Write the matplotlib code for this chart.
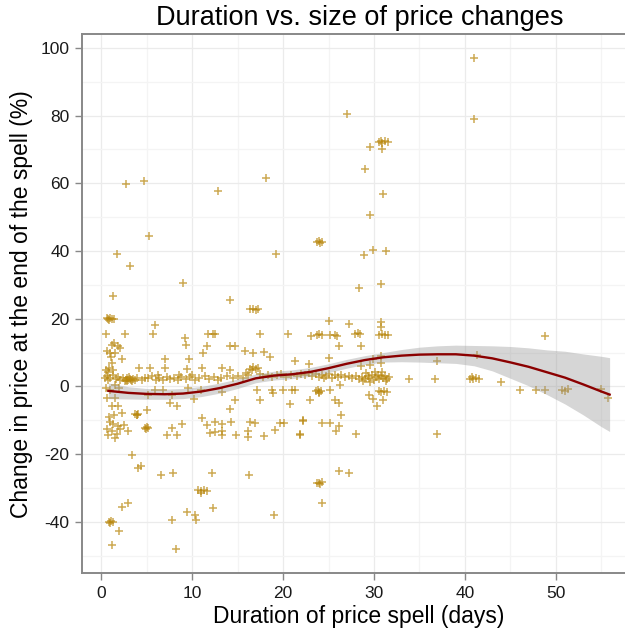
"""Duration vs. size of price changes: scatter of price spells with a smoothed fit."""
import matplotlib
matplotlib.use("Agg")
import matplotlib.pyplot as plt

plt.rcParams["font.family"] = ["Liberation Sans", "DejaVu Sans"]
plt.rcParams["axes.unicode_minus"] = False

# (duration in days, change in %), grouped by duration range
short_spells = [
    (2.7, 59.7), (4.7, 60.6), (5.3, 44.3), (1.8, 39.2), (3.2, 35.7), (1.3, 26.8),
    (0.6, 20.1), (0.8, 19.8), (1.0, 20.2), (1.2, 19.9), (1.4, 20.0), (0.9, 19.6),
    (0.5, 15.5), (2.6, 15.5), (1.2, 12.3), (1.9, 11.8), (1.5, 9.8), (1.0, 9.8),
    (2.3, 8.1), (1.2, 6.9), (0.8, 4.4), (1.4, 12.8), (1.1, 8.8), (0.7, 10.5), (2.1, 11.5),
    (0.4, 2.5), (0.6, 3.2), (0.8, 1.8), (1.0, 2.6), (1.3, 3.4), (1.6, 2.2), (1.9, 2.9),
    (2.1, 2.0), (2.4, 2.5), (2.6, 1.7), (2.8, 2.4), (3.0, 2.0), (3.1, 2.8), (3.3, 1.8),
    (3.5, 2.3), (3.7, 2.0), (0.5, 5.0), (0.9, 5.4), (1.3, 4.8), (4.2, 5.4), (4.0, 2.6),
    (4.5, 1.9), (4.8, 2.4), (2.9, 1.5), (3.2, 2.2), (3.4, 1.6), (2.7, 2.0),
    (0.5, -0.4), (1.0, -1.0), (1.5, 0.5), (2.0, -0.5), (0.6, -3.5), (1.5, -3.5),
    (1.9, -5.9), (1.2, -5.9), (2.3, -7.9), (1.4, -8.4), (1.0, -10.4), (2.5, -11.3),
    (1.9, -11.8), (1.2, -13.3), (0.8, -14.3), (1.5, -15.3), (3.0, -13.3), (0.6, -12.5),
    (1.3, -11.0), (2.1, -12.6), (1.7, -14.0), (0.9, -9.0),
    (3.7, -8.2), (3.9, -8.4), (4.1, -8.0), (4.0, -8.3),
    (4.8, -12.3), (5.0, -12.1), (5.2, -12.4), (4.9, -12.6), (5.0, -6.9),
    (3.4, -20.2), (4.1, -24.1), (4.4, -23.4), (2.3, -35.6), (3.0, -34.5),
    (0.9, -40.0), (1.1, -39.8), (1.3, -40.1), (1.0, -40.2), (2.0, -42.6), (1.2, -46.9),
]

mid_spells = [
    (6.6, -26.1), (7.9, -25.6), (12.2, -25.6), (9.4, -37.1), (10.3, -37.9),
    (10.4, -39.4), (12.3, -35.9), (7.8, -39.4), (8.2, -47.9),
    (10.7, -30.7), (11.0, -30.9), (11.3, -30.6), (11.6, -30.8), (11.0, -31.6),
    (9.0, 30.5), (12.9, 57.6), (5.9, 18.2), (5.7, 15.5), (9.2, 14.3), (9.3, 12.3),
    (11.7, 15.5), (12.3, 15.5), (11.6, 11.8), (11.2, 9.8), (7.0, 8.1), (9.7, 8.1),
    (9.4, 5.1), (11.1, 5.4), (7.0, 5.4), (5.4, 5.4),
    (5.2, 2.5), (5.6, 3.0), (6.0, 2.0), (6.4, 2.6), (6.8, 1.8), (7.2, 2.9), (7.6, 2.2),
    (8.0, 2.6), (8.4, 1.9), (8.8, 2.8), (9.3, 2.3), (9.8, 2.8), (10.3, 1.8), (10.8, 2.5),
    (11.4, 3.0), (11.9, 2.2), (12.4, 2.7), (12.8, 1.8), (6.2, 3.3), (8.6, 3.3), (10.0, 3.5),
    (5.9, -1.0), (6.8, -1.0), (5.2, -2.5), (7.8, -2.5), (7.6, -4.9), (8.3, -5.9),
    (11.1, -9.4), (11.6, -11.3), (12.0, -13.8), (12.5, -10.4), (7.2, -14.3), (8.3, -14.3),
    (7.8, -12.3), (12.5, -13.5), (9.5, -0.5), (11.0, -1.0), (10.2, -3.8), (8.9, -11.0),
    (14.2, 25.6), (16.4, 22.8), (16.7, 23.0), (17.0, 22.7), (17.3, 22.9),
    (18.1, 61.6), (19.2, 39.2),
    (17.5, 15.5), (20.6, 15.5), (12.5, 15.5), (14.2, 12.0), (14.7, 12.0), (15.8, 10.6),
    (16.7, 9.8), (17.9, 10.3), (18.6, 8.8), (21.3, 7.4),
    (16.4, 5.3), (16.7, 5.6), (17.0, 5.2), (17.3, 5.5), (16.6, 4.9), (13.3, 5.4), (14.2, 4.9),
    (13.2, 2.6), (13.8, 3.2), (14.5, 2.4), (15.1, 3.0), (15.6, 2.6), (16.2, 3.4), (17.8, 2.9),
    (18.3, 3.4), (18.8, 2.7), (19.3, 3.3), (19.8, 3.8), (20.3, 2.9), (20.9, 3.5), (21.5, 3.0),
    (22.0, 3.6), (15.9, 4.0), (17.5, 3.8),
    (17.1, -1.0), (18.8, -1.0), (20.0, -1.0), (21.0, -1.0), (21.3, -1.0), (13.3, -1.5),
    (17.5, -4.0), (14.7, -4.0), (14.2, -6.7), (20.8, -5.2), (14.3, -10.4), (13.3, -11.0),
    (16.4, -10.4), (16.9, -10.8), (19.7, -10.7), (20.1, -10.7), (22.2, -10.1), (13.3, -13.3),
    (13.3, -14.3), (14.8, -14.3), (16.2, -13.3), (16.2, -14.8), (17.9, -14.6), (19.1, -13.0),
    (21.9, -14.1), (16.3, -26.2), (19.0, -37.9), (18.9, -1.8),
]

month_spells = [
    (27.0, 80.4), (29.6, 70.6), (30.9, 70.2), (29.0, 64.2), (31.0, 56.8), (29.6, 50.5),
    (28.9, 38.9), (29.9, 40.3), (31.3, 40.0), (28.3, 29.2), (30.8, 30.3),
    (30.6, 72.3), (30.9, 72.0), (31.2, 72.4), (31.5, 72.1), (30.8, 72.6),
    (23.7, 42.8), (24.0, 43.0), (24.3, 42.7), (24.1, 42.5),
    (25.0, 19.4), (27.2, 18.5), (30.8, 18.9), (30.8, 17.7),
    (23.1, 15.0), (23.7, 15.2), (24.0, 15.4), (24.3, 15.1), (25.2, 15.2), (25.7, 15.2),
    (25.9, 15.0), (27.9, 15.5), (28.2, 15.8), (28.5, 15.4), (30.6, 15.2), (30.9, 15.4),
    (31.2, 15.1), (31.5, 15.2), (26.1, 12.0), (28.6, 12.0),
    (25.1, 8.5), (22.9, 6.6), (29.9, 8.1), (30.8, 9.0), (30.8, 6.9), (28.6, 5.9), (29.6, 6.4),
    (22.4, 3.5), (22.8, 4.0), (23.2, 3.0), (23.6, 3.6), (24.0, 2.8), (24.3, 3.4), (24.7, 3.0),
    (25.0, 3.7), (25.4, 2.6), (25.7, 3.3), (26.0, 2.9), (26.4, 3.5), (26.8, 2.7), (27.2, 3.2),
    (27.6, 2.4), (28.0, 3.0), (28.3, 2.3), (28.7, 2.8), (29.0, 2.2), (29.3, 3.0), (29.5, 2.5),
    (29.8, 3.3), (30.0, 2.0), (30.2, 2.7), (30.4, 3.4), (30.6, 2.3), (30.8, 3.0), (31.0, 2.5),
    (31.2, 3.2), (31.4, 2.1), (31.6, 2.8), (30.1, 4.4), (29.1, 4.0), (30.9, 4.2), (31.3, 1.6),
    (28.8, 1.5), (29.6, 1.2), (24.5, 2.5),
    (23.6, -1.4), (23.9, -1.7), (24.2, -1.3), (24.0, -2.0), (23.8, -1.0),
    (25.2, -1.0), (26.3, 0.5), (30.5, -1.3), (30.8, -1.6), (31.1, -1.2), (31.4, -1.5),
    (23.0, -4.0), (25.7, -4.0), (26.1, -4.8), (29.4, -2.5), (29.9, -3.7), (30.3, -5.7),
    (31.0, -4.0), (26.4, -8.4), (24.3, -10.7), (25.2, -10.7), (26.2, -11.6), (25.8, -13.3),
    (28.0, -14.1), (22.2, -9.9), (21.9, -14.3),
    (26.1, -25.1), (27.2, -25.6), (23.7, -28.4), (24.0, -28.6), (24.3, -28.3), (24.1, -28.9),
    (24.3, -34.3),
]

long_spells = [
    (41.0, 97.0), (41.0, 79.0), (33.9, 2.2), (36.7, 2.2), (36.9, 7.6), (41.3, 9.3),
    (48.8, 15.0), (40.6, 2.3), (40.9, 2.1), (41.2, 2.4), (41.5, 2.2), (40.8, 2.7),
    (44.0, 1.2), (46.0, -1.0), (47.8, -1.0), (48.8, -1.0), (50.7, -1.0), (51.0, -1.2),
    (51.3, -0.9), (55.0, -0.8), (55.7, -3.5), (36.9, -14.0),
]

# smoothed fit and half-width of its confidence band
smooth_x = [0.8, 3, 5, 7, 9, 11, 13, 15, 17, 19, 21, 23, 25, 27, 29, 31, 33, 35,
            37, 39, 41, 43, 45, 47, 49, 51, 53, 55, 55.9]
smooth_y = [-1.3, -1.9, -2.2, -2.3, -2.1, -1.5, -0.5, 0.8, 2.4, 3.2, 3.6, 4.3, 5.4,
            6.7, 7.8, 8.6, 9.1, 9.4, 9.5, 9.5, 9.1, 8.3, 7.1, 5.8, 4.2, 2.6, 0.6, -1.5, -2.4]
smooth_se = [2.3, 1.8, 1.6, 1.5, 1.5, 1.5, 1.5, 1.4, 1.3, 1.3, 1.3, 1.3, 1.3, 1.3,
             1.3, 1.4, 1.8, 2.2, 2.5, 2.7, 3.0, 3.7, 4.7, 5.6, 6.6, 7.8, 9.0, 10.4, 10.9]

spells = short_spells + mid_spells + month_spells + long_spells
days = [d for d, _ in spells]
change = [c for _, c in spells]
lower = [y - s for y, s in zip(smooth_y, smooth_se)]
upper = [y + s for y, s in zip(smooth_y, smooth_se)]

fig = plt.figure(figsize=(6.25, 6.32), dpi=100)
ax = fig.add_axes([82 / 625, 1 - 573 / 632, (636 - 82) / 625, (573 - 34) / 632])

ax.plot(days, change, linestyle="none", marker="+", markersize=5.5, mew=1.1,
        color="#b8860b", alpha=0.7, zorder=3)
ax.fill_between(smooth_x, lower, upper, color="#999999", alpha=0.4, lw=0, zorder=4)
ax.plot(smooth_x, smooth_y, color="#8b0000", lw=1.7, zorder=5)

ax.set_xlim(-2.1, 58.8)
ax.set_ylim(-55.1, 104.1)
ax.set_xticks(range(0, 51, 10))
ax.set_yticks(range(-40, 101, 20))
ax.set_xticks(range(5, 56, 10), minor=True)
ax.set_yticks(range(-50, 91, 20), minor=True)
ax.grid(which="major", color="#ebebeb", lw=0.9, zorder=0)
ax.grid(which="minor", color="#f4f4f4", lw=0.9, zorder=0)
ax.set_axisbelow(True)

for side in ("left", "top", "bottom"):
    ax.spines[side].set_color("#888888")
    ax.spines[side].set_linewidth(1.4)
ax.spines["right"].set_visible(False)
ax.tick_params(which="major", direction="out", length=5, width=1.0, color="#888888",
               labelsize=12.5, pad=4, labelcolor="#1a1a1a")
ax.tick_params(which="minor", length=0)

fig.text(359.5 / 625, 1 - 18 / 632, "Duration vs. size of price changes",
         ha="center", va="center", fontsize=19.5)
fig.text(358.5 / 625, 1 - 616 / 632, "Duration of price spell (days)",
         ha="center", va="center", fontsize=16.5)
fig.text(22 / 625, 1 - 304 / 632, "Change in price at the end of the spell (%)",
         ha="center", va="center", rotation=90, fontsize=16.5)

fig.savefig("out.png", dpi=100)
